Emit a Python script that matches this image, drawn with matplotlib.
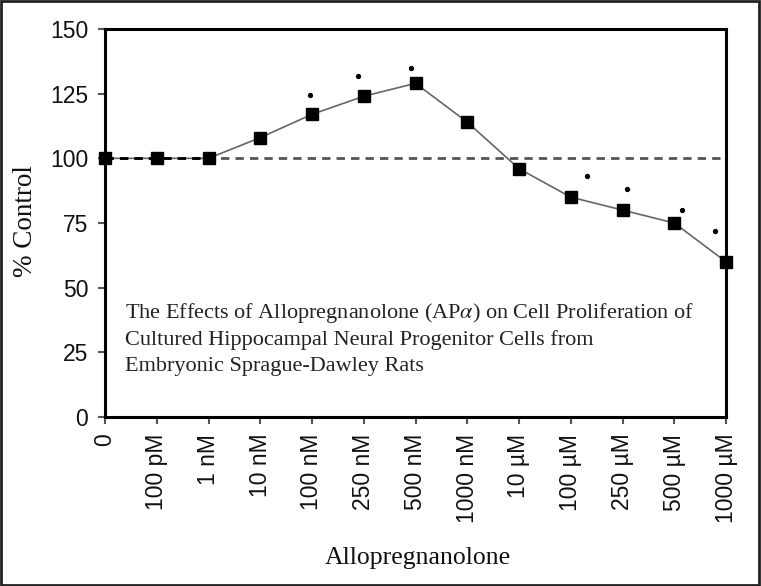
import matplotlib.pyplot as plt

# Allopregnanolone dose-response data
doses = ["0", "100 pM", "1 nM", "10 nM", "100 nM", "250 nM", "500 nM",
         "1000 nM", "10 \u00b5M", "100 \u00b5M", "250 \u00b5M", "500 \u00b5M", "1000 \u00b5M"]
pct_control = [100, 100, 100, 108, 117, 124, 129, 114, 96, 85, 80, 75, 60]

# significance dots (x in category units, y in % control)
sig_x = [3.96, 4.88, 5.91, 9.31, 10.09, 11.15, 11.79]
sig_y = [124.5, 132, 135, 93, 88, 80, 72]

control_level = 100
yticks = [0, 25, 50, 75, 100, 125, 150]

note_lines = ["The Effects of Allopregnanolone (AP$\\alpha$) on Cell Proliferation of",
              "Cultured Hippocampal Neural Progenitor Cells from",
              "Embryonic Sprague-Dawley Rats"]

W, H = 761, 586
fig = plt.figure(figsize=(W / 100, H / 100), dpi=100)
ax = fig.add_axes([105 / W, 1 - 417 / H, 621 / W, 388 / H])

x = list(range(len(doses)))
ax.axhline(control_level, color="#555555", lw=2, ls=(0, (3, 2.2)), zorder=1)
ax.plot(x, pct_control, color="#666666", lw=1.2, zorder=2)
ax.plot(x[:3], pct_control[:3], color="black", lw=2, ls=(0, (3, 2.2)), zorder=2)
ax.plot(x, pct_control, ls="none", marker="s", ms=8, color="black", zorder=4, clip_on=False)
ax.plot(sig_x, sig_y, ls="none", marker="o", ms=2.8, color="black", zorder=3)

ax.set_xlim(0, len(doses) - 1)
ax.set_ylim(0, 150)
ax.set_yticks(yticks)
ax.set_xticks(x)
ax.set_xticklabels(doses, rotation=90, va="top", ha="center")

for s in ax.spines.values():
    s.set_linewidth(2.2)
    s.set_color("black")
for lab in ax.get_xticklabels() + ax.get_yticklabels():
    lab.set_fontfamily("Liberation Sans")
    lab.set_fontsize(16.5)
    lab.set_color("#111111")
ax.tick_params(axis="both", direction="out", length=5, width=1.5, color="#555555")
ax.tick_params(axis="x", pad=7)
ax.tick_params(axis="y", pad=7)

for i, line in enumerate(note_lines):
    ax.text(0.032, 0.268 - i * 0.0685, line, transform=ax.transAxes, ha="left", va="center",
            family="Liberation Serif", fontsize=16, color="#222222", math_fontfamily="stix")

fig.text(26 / W, 1 - 221 / H, "% Control", rotation=90, ha="center", va="center",
         family="Liberation Serif", fontsize=19.5, color="#111111")
fig.text(418 / W, 1 - 558 / H, "Allopregnanolone", ha="center", va="center",
         family="Liberation Serif", fontsize=18.5, color="#111111")

# thin border around the whole figure
fig.patches.append(plt.Rectangle((0.001, 0.001), 0.997, 0.997, transform=fig.transFigure,
                                 fill=False, lw=2, edgecolor="#222222"))

fig.savefig("out.png", dpi=100)
